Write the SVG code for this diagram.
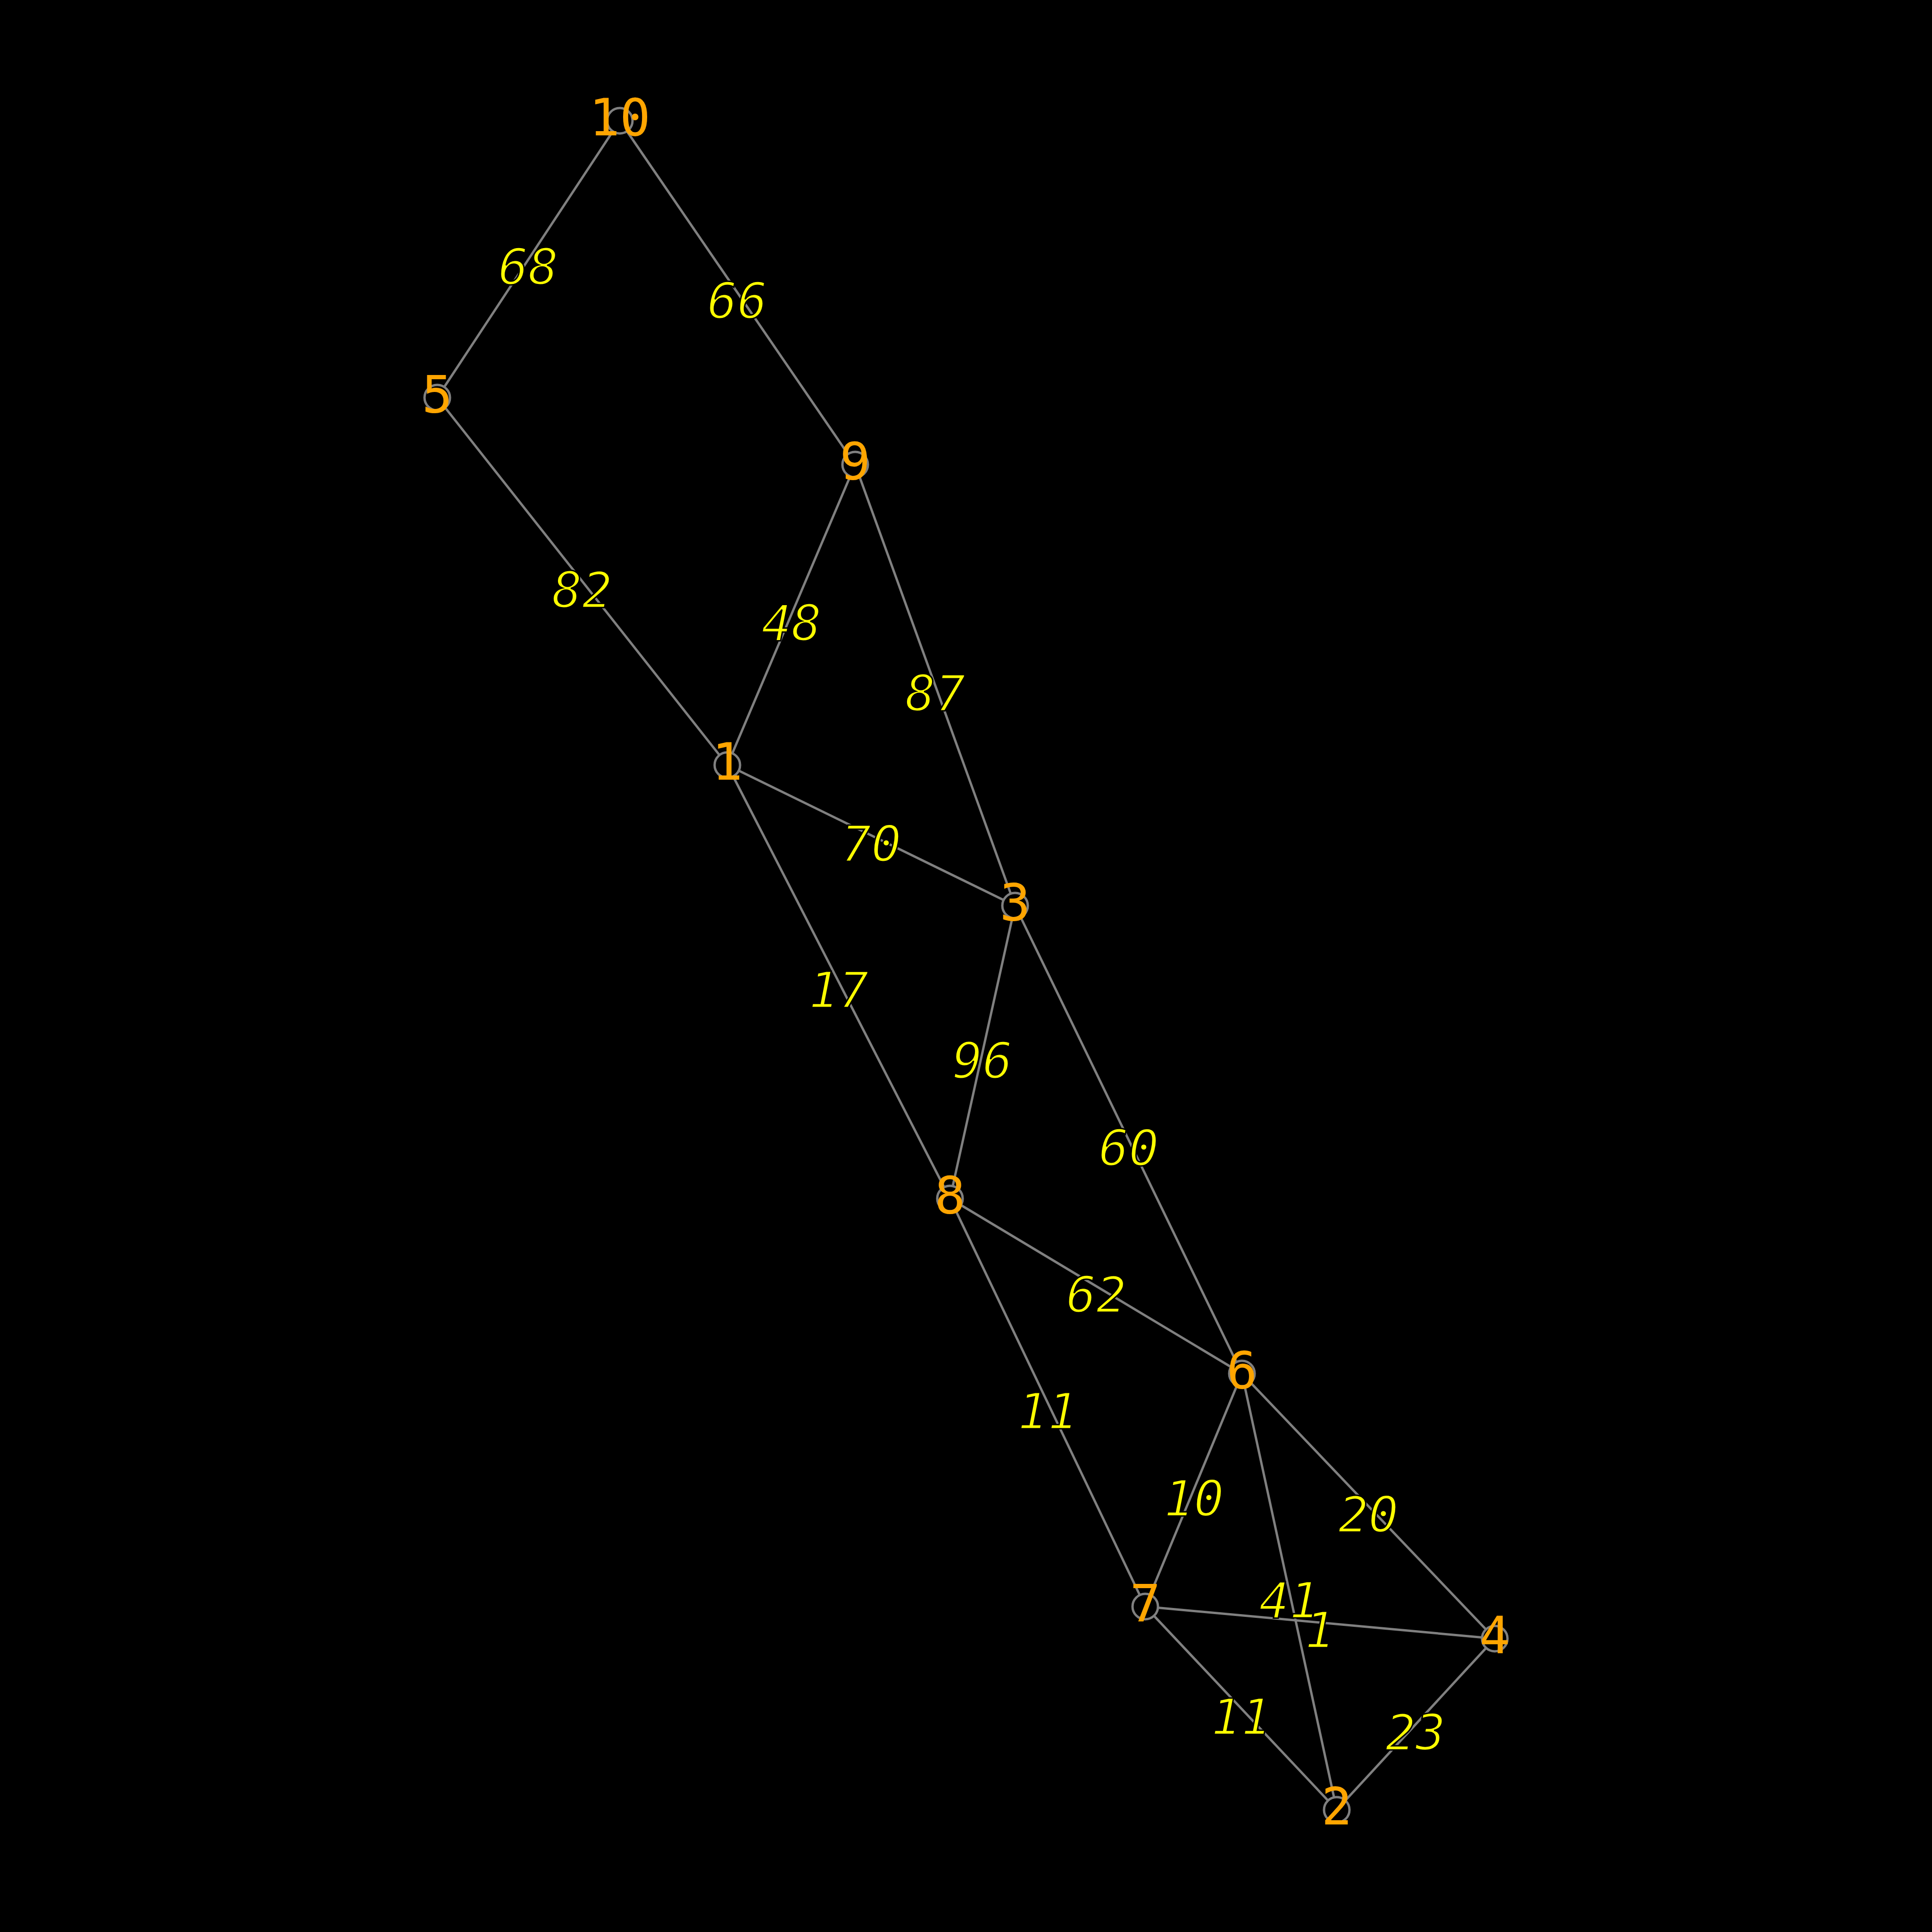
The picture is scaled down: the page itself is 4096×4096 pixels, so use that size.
<svg xmlns="http://www.w3.org/2000/svg" width="4096" height="4096" viewBox="0 0 4096 4096">
<style>
.e{stroke:#808080;stroke-width:5;fill:none}
.n circle{fill:#000;stroke:#808080;stroke-width:5}
.n text{fill:#FFA500;font-family:"DejaVu Sans Mono",monospace;font-size:108px;text-anchor:middle}
.l{fill:#FFFF00;stroke:#000;stroke-width:3;font-family:"DejaVu Sans Mono",monospace;font-size:106px;font-style:oblique;text-anchor:middle}
</style>
<rect width="4096" height="4096" fill="#000"/>
<g id="connectors">
<line class="e" x1="1314" y1="256" x2="927" y2="843"/>
<line class="e" x1="1314" y1="256" x2="1813" y2="985"/>
<line class="e" x1="927" y1="843" x2="1542" y2="1622"/>
<line class="e" x1="1813" y1="985" x2="1542" y2="1622"/>
<line class="e" x1="1813" y1="985" x2="2152" y2="1920"/>
<line class="e" x1="1542" y1="1622" x2="2152" y2="1920"/>
<line class="e" x1="1542" y1="1622" x2="2014" y2="2541"/>
<line class="e" x1="2152" y1="1920" x2="2014" y2="2541"/>
<line class="e" x1="2152" y1="1920" x2="2633" y2="2912"/>
<line class="e" x1="2014" y1="2541" x2="2633" y2="2912"/>
<line class="e" x1="2014" y1="2541" x2="2428" y2="3406"/>
<line class="e" x1="2633" y1="2912" x2="2428" y2="3406"/>
<line class="e" x1="2633" y1="2912" x2="3169" y2="3474"/>
<line class="e" x1="2633" y1="2912" x2="2834" y2="3837"/>
<line class="e" x1="2428" y1="3406" x2="3169" y2="3474"/>
<line class="e" x1="2428" y1="3406" x2="2834" y2="3837"/>
<line class="e" x1="3169" y1="3474" x2="2834" y2="3837"/>
</g>
<g id="edge-labels">
<text class="l" x="1120" y="603">68</text>
<text class="l" x="1563" y="675">66</text>
<text class="l" x="1234" y="1288">82</text>
<text class="l" x="1678" y="1358">48</text>
<text class="l" x="1983" y="1507">87</text>
<text class="l" x="1847" y="1826">70</text>
<text class="l" x="1778" y="2136">17</text>
<text class="l" x="2083" y="2286">96</text>
<text class="l" x="2393" y="2471">60</text>
<text class="l" x="2324" y="2782">62</text>
<text class="l" x="2221" y="3029">11</text>
<text class="l" x="2531" y="3214">10</text>
<text class="l" x="2901" y="3248">20</text>
<text class="l" x="2733" y="3430">41</text>
<text class="l" x="2798" y="3493">1</text>
<text class="l" x="2631" y="3677">11</text>
<text class="l" x="3001" y="3710">23</text>
</g>
<g id="node-10" class="n"><circle cx="1314" cy="256" r="27"/><text x="1314" y="287">10</text></g>
<g id="node-5" class="n"><circle cx="927" cy="843" r="27"/><text x="927" y="874">5</text></g>
<g id="node-9" class="n"><circle cx="1813" cy="985" r="27"/><text x="1813" y="1016">9</text></g>
<g id="node-1" class="n"><circle cx="1542" cy="1622" r="27"/><text x="1542" y="1653">1</text></g>
<g id="node-3" class="n"><circle cx="2152" cy="1920" r="27"/><text x="2152" y="1951">3</text></g>
<g id="node-8" class="n"><circle cx="2014" cy="2541" r="27"/><text x="2014" y="2572">8</text></g>
<g id="node-6" class="n"><circle cx="2633" cy="2912" r="27"/><text x="2633" y="2943">6</text></g>
<g id="node-7" class="n"><circle cx="2428" cy="3406" r="27"/><text x="2428" y="3437">7</text></g>
<g id="node-4" class="n"><circle cx="3169" cy="3474" r="27"/><text x="3169" y="3505">4</text></g>
<g id="node-2" class="n"><circle cx="2834" cy="3837" r="27"/><text x="2834" y="3868">2</text></g>
</svg>
